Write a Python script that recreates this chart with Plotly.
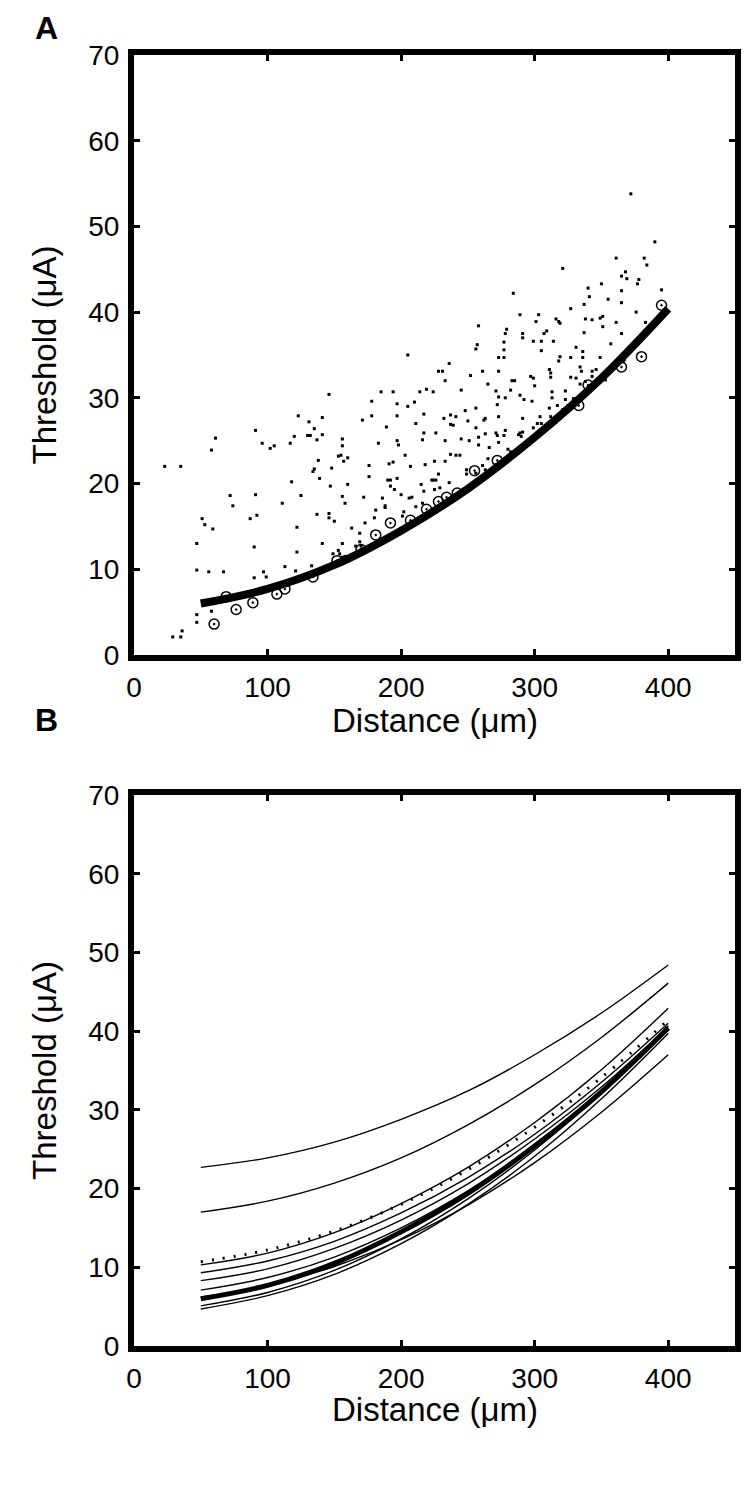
import plotly.graph_objects as go

# ---- Panel A: individual thresholds (dots) ----
dot_x = [29, 35, 36, 47, 47, 58, 59, 47, 47, 56, 67, 90, 90, 97, 99, 113, 121, 122, 120, 133,
         141, 149, 154, 153, 156, 156, 158, 169, 169, 166, 170,
         23, 35, 61, 58, 72, 74, 91, 96, 102, 105, 117, 120, 123, 131, 130, 132, 135, 137, 141,
         141, 146, 134, 135, 138, 139, 118, 125, 111, 91, 92, 87, 51, 53, 122, 137, 146, 146,
         150, 147, 156, 156, 153, 155, 157, 160, 148, 160, 158, 156, 163, 173, 178, 178, 171,
         176, 176, 172, 181, 180, 183, 185, 194, 189, 191, 194, 190, 192, 192, 195, 188, 188,
         186, 197, 197, 197, 198, 197, 200, 206, 208, 202, 201, 203, 205, 207, 210, 211, 214,
         219, 217, 218, 217, 215, 217, 216, 211, 216, 205,
         372, 390, 361, 382, 384, 321, 365, 368, 369, 378, 377, 350, 340, 341, 365, 284, 395,
         355, 337, 365, 327, 376, 289, 303, 301, 316, 318, 319, 338, 343, 349, 351, 351, 361,
         258, 279, 278, 291, 291, 309, 307, 337, 365, 383, 299, 305, 314, 305, 357, 257, 256,
         277, 277, 331, 336, 319, 318, 327, 336, 349, 273, 277, 228, 231, 236, 252, 261, 273,
         297, 299, 311, 312, 327, 331, 334, 335, 343, 233, 265, 300, 312, 224, 245, 271, 273,
         278, 272, 283, 285, 282, 289, 292, 298, 313, 313, 323, 311, 317, 321, 325, 248, 256,
         237, 241, 232, 263, 262, 273, 291, 302, 305, 312, 313, 237, 239, 250, 256, 263, 271,
         272, 278, 277, 288, 289, 291, 226, 233, 245, 251, 258, 258, 266, 273, 280, 282, 290,
         298, 237, 241, 244, 233, 249, 249, 256, 261, 263, 271, 225, 226, 224, 223, 229, 225,
         236, 228, 251, 265, 299, 304, 323, 329, 334, 338, 343, 346, 353, 358, 366, 367, 371,
         373]
dot_y = [2.1, 2.1, 2.8, 3.8, 4.7, 5.1, 14.7, 13.0, 9.9, 9.7, 9.7, 12.6, 9.0, 9.7, 9.1, 10.3, 9.8, 12.0, 8.6, 10.4,
         13.0, 11.8, 11.8, 12.2, 13.0, 11.4, 11.5, 14.2, 13.2, 12.7, 12.7,
         22.0, 22.0, 25.3, 23.9, 18.6, 17.4, 26.2, 24.7, 24.1, 24.4, 24.7, 25.5, 27.9, 27.2, 25.6, 25.6, 26.4, 25.1, 27.7,
         25.7, 30.4, 21.4, 21.7, 22.7, 20.6, 20.2, 18.6, 17.7, 18.7, 16.3, 15.9, 15.9, 15.2, 14.9, 16.4, 16.5, 16.0,
         15.6, 19.7, 25.2, 24.4, 23.2, 23.3, 22.6, 23.0, 21.8, 19.9, 17.7, 18.5, 14.8, 15.4, 29.6, 27.9, 27.4,
         22.1, 20.8, 18.4, 16.9, 16.0, 24.7, 30.7, 30.7, 26.6, 22.3, 22.5, 20.4, 20.4, 19.7, 19.3, 17.4, 17.2,
         18.3, 29.3, 27.9, 25.0, 24.5, 20.6, 18.7, 18.3, 18.4, 16.7, 16.2, 23.3, 29.0, 22.0, 29.5, 27.0, 30.7,
         31.0, 28.1, 22.2, 19.1, 19.9, 25.9, 25.1, 17.3, 17.7, 35.0,
         53.8, 48.2, 46.3, 46.3, 45.5, 45.1, 44.2, 44.7, 43.9, 43.8, 43.3, 43.3, 42.8, 41.8, 42.5, 42.2, 42.6,
         41.5, 40.9, 41.1, 40.4, 40.0, 39.7, 39.7, 38.9, 39.2, 38.9, 38.7, 39.2, 39.1, 39.3, 39.5, 38.3, 38.8,
         38.4, 38.0, 37.5, 37.5, 37.0, 37.8, 37.5, 37.6, 37.5, 38.8, 36.6, 36.6, 36.6, 35.5, 36.3, 36.2, 35.7,
         36.5, 35.6, 35.9, 35.4, 34.8, 34.3, 34.7, 34.7, 34.7, 34.7, 34.7, 33.1, 33.1, 34.0, 32.6, 33.1, 33.1,
         32.5, 32.3, 33.3, 32.9, 32.4, 32.3, 33.6, 33.1, 32.5, 32.0, 31.6, 31.4, 32.4, 30.7, 30.9, 30.8, 30.1,
         30.0, 29.2, 32.0, 32.0, 30.9, 30.3, 29.8, 29.6, 30.7, 30.0, 30.8, 28.8, 29.1, 28.6, 29.1, 28.5, 28.8,
         28.0, 27.8, 27.6, 27.6, 27.4, 27.8, 27.6, 27.0, 27.0, 27.8, 27.4, 26.9, 26.8, 27.3, 26.5, 25.8, 25.9,
         25.6, 26.2, 25.6, 25.7, 25.9, 26.0, 25.9, 25.0, 25.2, 25.0, 25.4, 24.5, 24.2, 24.8, 24.0, 23.7, 25.5,
         25.2, 23.4, 23.3, 23.3, 22.6, 21.6, 21.1, 21.2, 22.1, 21.6, 22.2, 22.6, 20.4, 20.4, 20.4, 19.5, 19.3,
         20.1, 21.1, 19.4, 22.9, 26.5, 27.8, 29.8, 29.9, 31.6, 31.9, 33.1, 33.3, 32.1, 33.8, 34.2, 34.4, 35.8,
         35.6]

# lowest threshold at each site (circled)
min_x = [60, 76.5, 89, 69, 107, 113, 134, 152, 170, 181, 192, 207, 219, 228, 234, 242, 255, 272,
         333, 340, 365, 380, 395]
min_y = [3.6, 5.3, 6.1, 6.8, 7.1, 7.7, 9.1, 11.0, 12.3, 14.0, 15.4, 15.7, 17.0, 17.9, 18.4, 18.9,
         21.5, 22.7, 29.1, 31.5, 33.6, 34.8, 40.8]

# ---- fitted curves ----
fit_x = [50, 100, 150, 200, 250, 300, 350, 400]
fit_all = [6.0, 7.7, 10.5, 14.5, 19.4, 25.4, 32.3, 40.4]

# Panel B: fits for the individual cells
cell_fits = [
    [22.7, 23.9, 25.9, 28.8, 32.4, 37.0, 42.3, 48.4],
    [17.0, 18.4, 20.7, 23.9, 28.1, 33.2, 39.2, 46.1],
    [10.3, 11.8, 14.4, 18.1, 22.7, 28.4, 35.1, 42.9],
    [9.3, 10.8, 13.3, 16.9, 21.4, 26.9, 33.5, 41.0],
    [8.3, 9.8, 12.4, 16.0, 20.6, 26.3, 32.9, 40.6],
    [7.1, 8.7, 11.3, 15.0, 19.7, 25.4, 32.2, 40.1],
    [5.1, 6.8, 9.6, 13.6, 18.7, 24.9, 32.2, 40.7],
    [4.7, 6.4, 9.1, 13.0, 18.0, 24.1, 31.4, 39.7],
    [6.2, 7.7, 10.1, 13.5, 17.9, 23.3, 29.7, 37.0],
]
fit_dotted = [10.7, 12.2, 14.6, 18.0, 22.4, 27.8, 34.1, 41.4]

FONT = "Liberation Sans, Arial, sans-serif"

fig = go.Figure()

fig.add_trace(go.Scatter(x=dot_x, y=dot_y, mode="markers",
                         marker=dict(symbol="square", size=3, color="black"),
                         xaxis="x", yaxis="y"))
fig.add_trace(go.Scatter(x=fit_x, y=fit_all, mode="lines", line_shape="spline",
                         line=dict(color="black", width=8),
                         xaxis="x", yaxis="y"))
fig.add_trace(go.Scatter(x=min_x, y=min_y, mode="markers",
                         marker=dict(symbol="circle-open-dot", size=10, color="black",
                                     line=dict(width=1.5, color="black")),
                         xaxis="x", yaxis="y"))

for ys in cell_fits:
    fig.add_trace(go.Scatter(x=fit_x, y=ys, mode="lines", line_shape="spline",
                             line=dict(color="black", width=1.4),
                             xaxis="x2", yaxis="y2"))
fig.add_trace(go.Scatter(x=fit_x, y=fit_dotted, mode="lines", line_shape="spline",
                         line=dict(color="black", width=3, dash="2px,9px"),
                         xaxis="x2", yaxis="y2"))
fig.add_trace(go.Scatter(x=fit_x, y=fit_all, mode="lines", line_shape="spline",
                         line=dict(color="black", width=5),
                         xaxis="x2", yaxis="y2"))

axis_style = dict(showline=True, linewidth=6, linecolor="black", mirror="ticks",
                  ticks="inside", ticklen=6, tickwidth=3, tickcolor="black",
                  showgrid=False, zeroline=False,
                  tickfont=dict(family=FONT, size=28, color="black"))

xstyle = dict(axis_style, range=[0, 450], tickvals=[0, 100, 200, 300, 400],
              ticklabelstandoff=2)
ystyle = dict(axis_style, range=[0, 70], tickvals=[0, 10, 20, 30, 40, 50, 60, 70],
              ticklabelstandoff=3,
              title=dict(text="Threshold (\u03bcA)", standoff=24,
                         font=dict(family=FONT, size=33, color="black")))

title_font = dict(family=FONT, size=33, color="black")
panel_font = dict(family=FONT, size=32, color="black")

fig.update_layout(
    width=750, height=1485,
    margin=dict(l=126, r=23, t=47, b=147),
    paper_bgcolor="white", plot_bgcolor="white",
    showlegend=False,
    xaxis=dict(xstyle, domain=[0, 1], anchor="y"),
    yaxis=dict(ystyle, domain=[0.5353, 1.0], anchor="x"),
    xaxis2=dict(xstyle, domain=[0, 1], anchor="y2"),
    yaxis2=dict(ystyle, domain=[0, 0.4268], anchor="x2"),
    annotations=[
        dict(text="Distance (\u03bcm)", x=0.5, y=-0.11, xref="x domain", yref="y domain",
             xanchor="center", yanchor="middle", showarrow=False, font=title_font),
        dict(text="Distance (\u03bcm)", x=0.5, y=-0.116, xref="x2 domain", yref="y2 domain",
             xanchor="center", yanchor="middle", showarrow=False, font=title_font),
        dict(text="<b>A</b>", x=-0.145, y=1.021, xref="paper", yref="paper",
             xanchor="center", yanchor="middle", showarrow=False, font=panel_font),
        dict(text="<b>B</b>", x=-0.145, y=0.485, xref="paper", yref="paper",
             xanchor="center", yanchor="middle", showarrow=False, font=panel_font),
    ],
)

fig.write_html("out.html")
